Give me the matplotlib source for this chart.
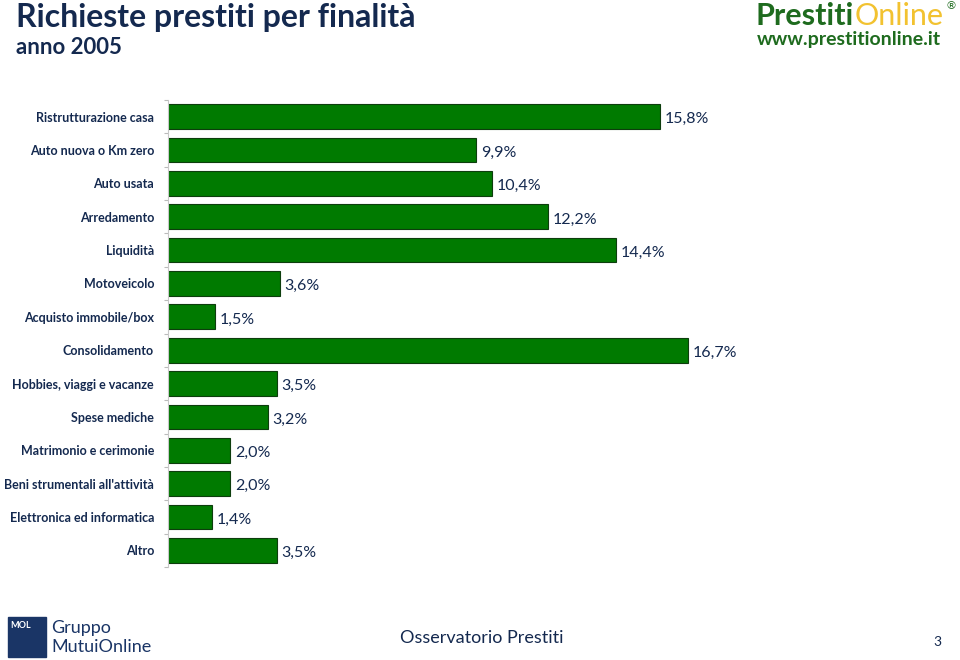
import matplotlib.pyplot as plt
from matplotlib.patches import Rectangle

# data
categories = ["Ristrutturazione casa", "Auto nuova o Km zero", "Auto usata", "Arredamento",
              "Liquidità", "Motoveicolo", "Acquisto immobile/box", "Consolidamento",
              "Hobbies, viaggi e vacanze", "Spese mediche", "Matrimonio e cerimonie",
              "Beni strumentali all'attività", "Elettronica ed informatica", "Altro"]
values = [15.8, 9.9, 10.4, 12.2, 14.4, 3.6, 1.5, 16.7, 3.5, 3.2, 2.0, 2.0, 1.4, 3.5]
value_labels = ["15,8%", "9,9%", "10,4%", "12,2%", "14,4%", "3,6%", "1,5%", "16,7%",
                "3,5%", "3,2%", "2,0%", "2,0%", "1,4%", "3,5%"]

navy = "#14294f"
green = "#007a00"

W, H = 960, 660
fig = plt.figure(figsize=(9.6, 6.6), dpi=100)

def px(x, y, w, h):
    return [x / W, 1 - (y + h) / H, w / W, h / H]

ax = fig.add_axes(px(168, 100, 560, 467))
pos = list(range(len(categories)))
ax.barh(pos, values, height=0.74, color=green, edgecolor="#0d3d0d", linewidth=0.8)
ax.set_ylim(len(categories) - 0.5, -0.5)
ax.set_xlim(0, 18.0)
for p, v, lab in zip(pos, values, value_labels):
    ax.text(v + 0.15, p + 0.08, lab, va="center", ha="left", fontsize=11.5,
            color=navy, family="Lato")

ax.set_yticks(pos)
ax.set_yticklabels(categories, fontsize=9, fontweight="bold", color=navy, family="Lato")
ax.tick_params(axis="y", which="major", length=0, pad=10)
ax.set_yticks([p - 0.5 for p in range(len(categories) + 1)], minor=True)
ax.tick_params(axis="y", which="minor", length=3, color="#bbbbbb", width=0.8)
ax.set_xticks([])
for s in ["top", "right", "bottom"]:
    ax.spines[s].set_visible(False)
ax.spines["left"].set_color("#c8c8c8")

# titles
fig.text(16 / W, 1 - 18 / H, "Richieste prestiti per finalità", fontsize=23,
         fontweight="bold", color=navy, family="Lato", va="center", ha="left")
fig.text(16 / W, 1 - 47 / H, "anno 2005", fontsize=16, fontweight="bold",
         color=navy, family="Lato", va="center", ha="left")

# logo top right
t1 = fig.text(756 / W, 1 - 16 / H, "Prestiti", fontsize=22, fontweight="bold",
              color="#1e6b1e", family="Lato", va="center", ha="left")
fig.canvas.draw()
x_end = t1.get_window_extent().x1
fig.text(x_end / W, 1 - 16 / H, "Online", fontsize=22, color="#f2c230",
         family="Lato", va="center", ha="left")
fig.text(951 / W, 1 - 6 / H, "®", fontsize=8, color="#1e6b1e",
         family="DejaVu Sans", va="center", ha="center")
fig.text(757 / W, 1 - 40 / H, "www.prestitionline.it", fontsize=14,
         fontweight="bold", color="#1e6b1e", family="Lato", va="center", ha="left")

# footer
fig.patches.append(Rectangle((8 / W, 1 - 657 / H), 38 / W, 40 / H,
                             transform=fig.transFigure, color="#1a3566"))
fig.text(10 / W, 1 - 625 / H, "MOL", fontsize=6.5, fontweight="bold", color="white",
         family="Lato", va="center", ha="left")
fig.text(51 / W, 1 - 628 / H, "Gruppo", fontsize=13, color="#1a3566",
         family="Lato", va="center", ha="left")
fig.text(51 / W, 1 - 647 / H, "MutuiOnline", fontsize=13, color="#1a3566",
         family="Lato", va="center", ha="left")
fig.text(482 / W, 1 - 638 / H, "Osservatorio Prestiti", fontsize=13, color=navy,
         family="Lato", va="center", ha="center")
fig.text(937 / W, 1 - 642 / H, "3", fontsize=10, color=navy,
         family="Lato", va="center", ha="center")

fig.savefig("out.png", dpi=100)
